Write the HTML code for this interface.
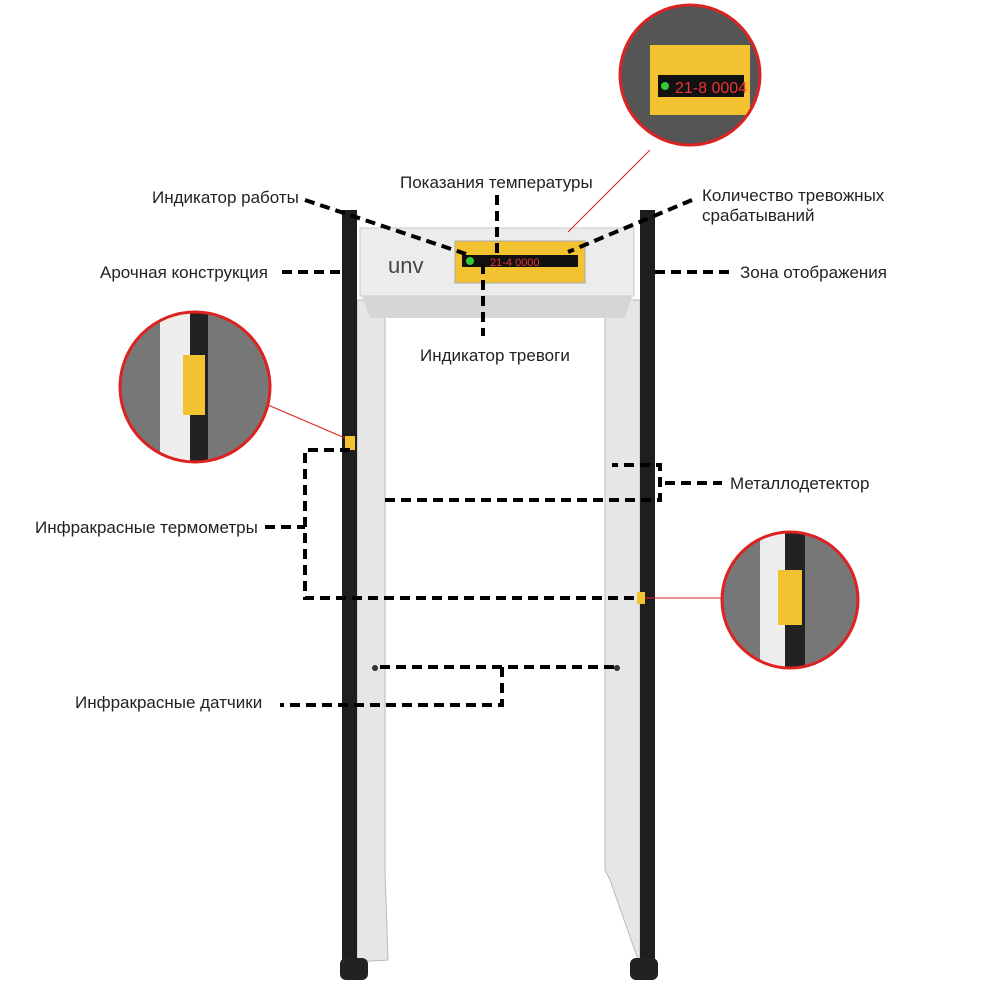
<!DOCTYPE html>
<html><head><meta charset="utf-8"><style>
body{margin:0;background:#fff}
svg text{font-family:"Liberation Sans","DejaVu Sans",sans-serif;font-size:17px;fill:#222}
</style></head><body>
<svg width="1000" height="1000" viewBox="0 0 1000 1000" xmlns="http://www.w3.org/2000/svg">
<defs>
<clipPath id="c1"><circle cx="690" cy="75" r="69"/></clipPath>
<clipPath id="c2"><circle cx="195" cy="387" r="74"/></clipPath>
<clipPath id="c3"><circle cx="790" cy="600" r="67"/></clipPath>
</defs>
<!-- left pillar -->
<polygon points="357,300 385,300 385,870 388,960 357,962" fill="#e6e6e6" stroke="#bbb"/>
<rect x="342" y="210" width="15" height="760" fill="#1e1e1e"/>
<rect x="340" y="958" width="28" height="22" rx="6" fill="#222"/>
<!-- right pillar -->
<polygon points="605,300 640,300 640,965 610,880 605,870" fill="#e6e6e6" stroke="#bbb"/>
<rect x="640" y="210" width="15" height="760" fill="#1e1e1e"/>
<rect x="630" y="958" width="28" height="22" rx="6" fill="#222"/>
<!-- header -->
<rect x="360" y="228" width="274" height="68" fill="#ececec" stroke="#c8c8c8"/>
<polygon points="362,296 632,296 625,318 370,318" fill="#d6d6d6"/>
<text x="388" y="273" style="font-size:22px;fill:#444">unv</text>
<rect x="455" y="241" width="130" height="42" fill="#f2c230" stroke="#aaa"/>
<rect x="462" y="255" width="116" height="12" fill="#111"/>
<circle cx="470" cy="261" r="4" fill="#3c3"/>
<text x="490" y="266" style="font-size:11px;fill:#e33">21-4  0000</text>
<rect x="345" y="436" width="10" height="14" fill="#f2c230"/>
<rect x="637" y="592" width="8" height="12" fill="#f2c230"/>
<circle cx="375" cy="668" r="3" fill="#333"/><circle cx="617" cy="668" r="3" fill="#333"/>
<!-- circles -->
<g clip-path="url(#c1)">
<rect x="620" y="5" width="140" height="140" fill="#555"/>
<rect x="650" y="45" width="100" height="70" fill="#f2c230"/>
<rect x="658" y="75" width="86" height="22" fill="#111"/>
<circle cx="665" cy="86" r="4" fill="#3c3"/>
<text x="675" y="93" style="font-size:16px;fill:#e33">21-8 0004</text>
</g>
<g clip-path="url(#c2)">
<rect x="120" y="312" width="150" height="150" fill="#777"/>
<rect x="160" y="312" width="30" height="150" fill="#eee"/><rect x="190" y="312" width="18" height="150" fill="#222"/>
<rect x="183" y="355" width="22" height="60" fill="#f2c230"/>
</g>
<g clip-path="url(#c3)">
<rect x="722" y="532" width="136" height="136" fill="#777"/>
<rect x="760" y="532" width="25" height="136" fill="#eee"/><rect x="785" y="532" width="20" height="136" fill="#222"/>
<rect x="778" y="570" width="24" height="55" fill="#f2c230"/>
</g>
<g stroke="#d22" stroke-width="3" fill="none">
<circle cx="690" cy="75" r="70"/>
<circle cx="195" cy="387" r="75"/>
<circle cx="790" cy="600" r="68"/>
</g>
<!-- red lines -->
<g stroke="#d22" stroke-width="1">
<line x1="268" y1="405" x2="345" y2="438"/>
<line x1="645" y1="598" x2="722" y2="598"/>
<line x1="568" y1="232" x2="650" y2="150"/>
</g>
<!-- dashed -->
<g stroke="#000" stroke-width="4" fill="none" stroke-dasharray="10,6">
<line x1="305" y1="200" x2="466" y2="254"/>
<line x1="497" y1="195" x2="497" y2="255"/>
<line x1="692" y1="200" x2="568" y2="252"/>
<line x1="282" y1="272" x2="345" y2="272"/>
<line x1="655" y1="272" x2="730" y2="272"/>
<line x1="483" y1="264" x2="483" y2="336"/>
<polyline points="385,500 660,500 660,465 612,465"/>
<line x1="665" y1="483" x2="722" y2="483"/>
<polyline points="350,450 305,450 305,598 640,598"/>
<line x1="265" y1="527" x2="305" y2="527"/>
<polyline points="380,667 502,667 615,667"/>
<polyline points="502,667 502,705 280,705"/>
</g>
<text x="152" y="203">Индикатор работы</text>
<text x="400" y="188">Показания температуры</text>
<text x="702" y="201">Количество тревожных</text>
<text x="702" y="221">срабатываний</text>
<text x="100" y="278">Арочная конструкция</text>
<text x="740" y="278">Зона отображения</text>
<text x="420" y="361">Индикатор тревоги</text>
<text x="730" y="489">Металлодетектор</text>
<text x="35" y="533">Инфракрасные термометры</text>
<text x="75" y="708">Инфракрасные датчики</text>
</svg>
</body></html>
